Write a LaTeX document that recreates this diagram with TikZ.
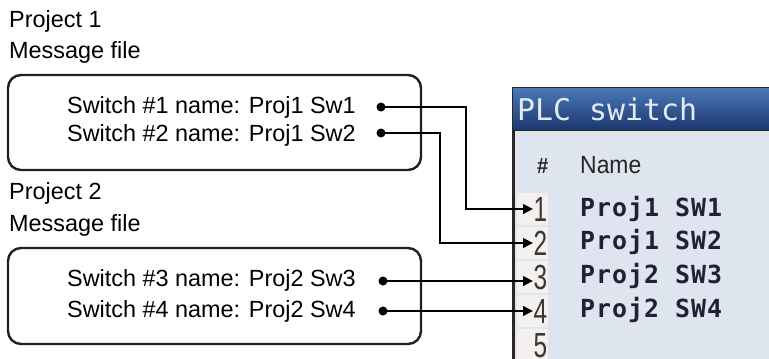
\documentclass[tikz,border=0pt]{standalone}
\usepackage{fontspec}
\setmainfont{Liberation Sans}
\newfontfamily\titlefont{DejaVu Sans Mono}
\newfontfamily\projfont[LetterSpace=4]{DejaVu Sans Mono}
\newfontfamily\digitfont[FakeStretch=0.7]{Liberation Sans}
\newfontfamily\headfont[FakeStretch=0.92]{Liberation Sans}
\usetikzlibrary{arrows.meta}
\definecolor{ink}{HTML}{231F20}
\definecolor{panelbody}{HTML}{DEE5EF}
\definecolor{panelborder}{HTML}{2B2523}
\definecolor{celbg}{HTML}{F3F0EE}
\definecolor{titletop}{HTML}{4A78B6}
\definecolor{titlebot}{HTML}{1B3770}
\definecolor{titletext}{HTML}{E4EAF2}
\definecolor{projtext}{HTML}{241F36}
\definecolor{headtext}{HTML}{262626}
\definecolor{digittext}{HTML}{383838}
\begin{document}
\begin{tikzpicture}[x=1bp,y=-1bp,
  lbl/.style={anchor=base west,inner sep=0pt,font=\fontsize{23.5}{28}\selectfont,text=black},
  msgbox/.style={draw=ink,line width=2.4bp,rounded corners=13bp,minimum width=413bp,inner sep=0pt},
  dotnode/.style={circle,fill=black,inner sep=0pt,minimum size=9bp},
  conn/.style={line width=2.5bp,draw=black,-{Triangle[length=10bp,width=9.5bp]}},
  cell/.style={fill=celbg,inner sep=0pt,minimum width=31bp,minimum height=32bp},
  digit/.style={anchor=base east,inner sep=0pt,font=\digitfont\fontsize{35}{35}\selectfont,text=digittext},
  proj/.style={anchor=base west,inner sep=0pt,font=\projfont\bfseries\fontsize{25}{25}\selectfont,text=projtext},
  head/.style={anchor=base west,inner sep=0pt,font=\headfont\fontsize{25}{25}\selectfont,text=headtext}
]
\useasboundingbox (0,0) rectangle (769,358);

% ---- left side: message files ----
\node[lbl] (p1) at (9,27) {Project 1};
\node[lbl] (m1) at (9,58) {Message file};
\node[msgbox,minimum height=95bp] (box1) at (214.5,122.5) {};
\node[lbl] (s1) at (67,113) {Switch \#1 name: Proj1 Sw1};
\node[lbl] (s2) at (67,141) {Switch \#2 name: Proj1 Sw2};

\node[lbl] (p2) at (9,199) {Project 2};
\node[lbl] (m2) at (9,231) {Message file};
\node[msgbox,minimum height=96bp] (box2) at (214.5,296) {};
\node[lbl] (s3) at (67,286) {Switch \#3 name: Proj2 Sw3};
\node[lbl] (s4) at (67,317) {Switch \#4 name: Proj2 Sw4};

% ---- PLC switch panel ----
\begin{scope}
\clip (0,0) rectangle (769,358);
\node[draw=panelborder,line width=3bp,fill=panelbody,anchor=north west,minimum width=300bp,minimum height=300bp,inner sep=0pt] (panel) at (511.5,86.5) {};
\shade[top color=titletop,bottom color=titlebot] (513,88) rectangle (790,130);
\draw[panelborder,line width=1.5bp] (513,130.5) -- (790,130.5);
\node[anchor=base west,inner sep=0pt,font=\titlefont\fontsize{30}{30}\selectfont,text=titletext] (title) at (517,120) {PLC switch};
\node[head,font=\headfont\bfseries\fontsize{22}{22}\selectfont] (hash) at (537,173) {\#};
\node[head] (hname) at (580,173) {Name};
\foreach \i in {1,...,5}{
  \node[cell] (c\i) at (532.5,{209+34*(\i-1)}) {};
  \node[digit] (n\i) at (547.5,{221+34*(\i-1)}) {\i};
}
\end{scope}
\node[proj] (r1) at (580,216) {Proj1 SW1};
\node[proj] (r2) at (580,249.5) {Proj1 SW2};
\node[proj] (r3) at (580,283.5) {Proj2 SW3};
\node[proj] (r4) at (580,317.5) {Proj2 SW4};

% ---- connectors ----
\node[dotnode] (d1) at (381,107) {};
\node[dotnode] (d2) at (381,133) {};
\node[dotnode] (d3) at (383,281) {};
\node[dotnode] (d4) at (383,311) {};
\coordinate (t1) at (533,209);
\coordinate (t2) at (533,243);
\coordinate (t3) at (533,281);
\coordinate (t4) at (533,311);
\coordinate (b1) at (466,0);
\coordinate (b2) at (440,0);
\draw[conn] (d1.center) -| (b1 |- t1) -- (t1);
\draw[conn] (d2.center) -| (b2 |- t2) -- (t2);
\draw[conn] (d3.center) -- (t3);
\draw[conn] (d4.center) -- (t4);
\end{tikzpicture}
\end{document}
